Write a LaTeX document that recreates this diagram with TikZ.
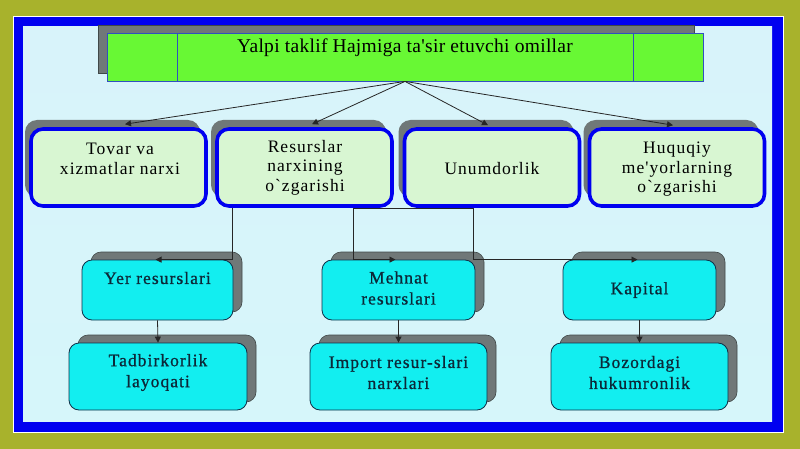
\documentclass[tikz,border=0pt]{standalone}
\usepackage{fontspec}
\setmainfont{Liberation Serif}[Ligatures=TeXOff]
\newfontfamily\midfont{Liberation Serif}[Ligatures=TeXOff, LetterSpace=6]
\newfontfamily\lowfont{Liberation Serif}[Ligatures=TeXOff, LetterSpace=6, FakeBold=0.8]
\newfontfamily\titlefont{Liberation Serif}[Ligatures=TeXOff, LetterSpace=1.5]
\usetikzlibrary{arrows.meta,shadows}
\definecolor{olive}{HTML}{A8B22C}
\definecolor{frameblue}{HTML}{0000F0}
\definecolor{bgtop}{HTML}{D8F3FA}
\definecolor{bgmid}{HTML}{F6FFFB}
\definecolor{bgbot}{HTML}{D6F6FA}
\definecolor{titlegreen}{HTML}{68F834}
\definecolor{titleedge}{HTML}{3050C0}
\definecolor{midgreen}{HTML}{D8F6D2}
\definecolor{lowcyan}{HTML}{12EEF0}
\definecolor{lowedge}{HTML}{103048}
\definecolor{shadowgray}{HTML}{707878}
\definecolor{shadowedge}{HTML}{404848}
\definecolor{lowtext}{HTML}{0C2838}
\tikzset{
  titlebox/.style={draw=titleedge, line width=0.8pt, fill=titlegreen, minimum width=596pt, minimum height=48pt, inner sep=0pt,
    general shadow={fill=shadowgray, draw=shadowedge, line width=0.6pt, shadow xshift=-9pt, shadow yshift=8pt}},
  midbox/.style={draw=frameblue, line width=3.6pt, fill=midgreen, rounded corners=12pt, minimum width=175pt, minimum height=77pt, inner sep=0pt,
    general shadow={fill=shadowgray, shadow xshift=-6pt, shadow yshift=9pt}},
  lowbox/.style={draw=lowedge, line width=0.8pt, fill=lowcyan, rounded corners=10pt, inner sep=0pt,
    general shadow={fill=shadowgray, draw=shadowedge, line width=0.6pt, shadow xshift=9pt, shadow yshift=8pt}},
  midtext/.style={align=center, inner sep=0pt, font=\midfont\fontsize{17.5}{19.5}\selectfont, text=black},
  lowtxt/.style={align=center, inner sep=0pt, font=\lowfont\fontsize{17.5}{21}\selectfont, text=lowtext},
  arr/.style={draw=black!85, line width=0.8pt, -{Triangle[length=6pt,width=6pt]}},
  conn/.style={draw=black!85, line width=0.8pt}
}
\begin{document}
\begin{tikzpicture}[x=1pt,y=-1pt]
\useasboundingbox (0,0) rectangle (800,449);
% background and frame
\fill[olive] (0,0) rectangle (800,449);
\fill[white] (13,16) rectangle (784,433);
\fill[frameblue] (14,17) rectangle (783,432);
\shade[top color=bgtop, middle color=bgmid, bottom color=bgbot] (23,27) rectangle (772,421);
% title
\node[titlebox] (title) at (405,57) {};
\draw[titleedge, line width=0.8pt] (177,33) -- (177,81) (633,33) -- (633,81);
\node[font=\titlefont\fontsize{19.5}{22}\selectfont, inner sep=0pt] (titletext) at (405,48) {Yalpi taklif Hajmiga ta'sir etuvchi omillar};
% junction line under middle row
\coordinate (j2) at (353,208);
\coordinate (j3) at (473,208);
\draw[conn] (j2) -- (j3);
% middle row
\node[midbox] (b1) at (118.5,167.5) {};
\node[midbox] (b2) at (304.5,167.5) {};
\node[midbox] (b3) at (492,167.5) {};
\node[midbox] (b4) at (677,167.5) {};
\node[midtext] (b1t) at (120,159) {Tovar va\\xizmatlar narxi};
\node[midtext] (b2t) at (305,167.5) {Resurslar\\narxining\\o`zgarishi};
\node[midtext] (b3t) at (492,169) {Unumdorlik};
\node[midtext] (b4t) at (677,169.5) {Huquqiy\\me'yorlarning\\o`zgarishi};
% lower rows
\node[lowbox, minimum width=151pt, minimum height=60pt] (yer) at (157.5,290) {};
\node[lowbox, minimum width=153pt, minimum height=60pt] (meh) at (398.5,290) {};
\node[lowbox, minimum width=153pt, minimum height=60pt] (kap) at (639.5,290) {};
\node[lowbox, minimum width=178pt, minimum height=67pt] (tad) at (158,376.5) {};
\node[lowbox, minimum width=177pt, minimum height=67pt] (imp) at (398.5,376.5) {};
\node[lowbox, minimum width=177pt, minimum height=67pt] (boz) at (639.5,376.5) {};
\node[lowtxt] (yert) at (157.5,278) {Yer resurslari};
\node[lowtxt] (meht) at (398.5,288) {Mehnat\\resurslari};
\node[lowtxt] (kapt) at (639.5,290) {Kapital};
\node[lowtxt] (tadt) at (158,372.5) {Tadbirkorlik\\layoqati};
\node[lowtxt] (impt) at (398.5,372.5) {Import resur-slari\\narxlari};
\node[lowtxt] (bozt) at (639.5,372.5) {Bozordagi\\hukumronlik};
% arrows from title
\draw[arr] (title.south) -- ([xshift=6.5pt,yshift=3pt]b1.north);
\draw[arr] (title.south) -- ([xshift=7.5pt,yshift=3pt]b2.north);
\draw[arr] (title.south) -- ([xshift=-4pt,yshift=2pt]b3.north);
\draw[arr] (title.south) -- ([xshift=-4pt,yshift=2pt]b4.north);
% connectors to second row
\coordinate (j1) at (232,208);
\draw[arr] (j1) -- (j1 |- yer.north) -- ([xshift=-2pt]yer.north);
\draw[arr] (j2) -- (j2 |- meh.north) -- ([xshift=-3pt]meh.north);
\draw[arr] (j3) -- (j3 |- kap.north) -- ([xshift=-2pt]kap.north);
% connectors to third row
\draw[arr] (yer.south) -- (tad.north);
\draw[arr] (meh.south) -- (imp.north);
\draw[arr] (kap.south) -- (boz.north);
\end{tikzpicture}
\end{document}
